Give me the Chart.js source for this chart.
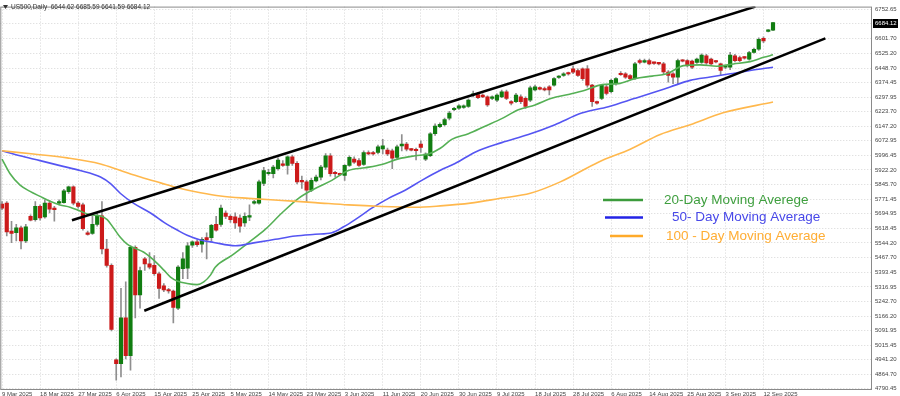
<!DOCTYPE html>
<html>
<head>
<meta charset="utf-8">
<script src="https://cdn.jsdelivr.net/npm/chart.js@4.4.1/dist/chart.umd.min.js"></script>
<style>
  html, body { margin: 0; padding: 0; background: #fff; }
  #wrap { width: 900px; height: 396px; }
</style>
</head>
<body>
<div id="wrap"><canvas id="chart" width="900" height="396"></canvas></div>
<script>
// x axis labels, one every 8 bars
const xTickLabels = ['9 Mar 2025', '18 Mar 2025', '27 Mar 2025', '6 Apr 2025', '15 Apr 2025', '25 Apr 2025',
  '5 May 2025', '14 May 2025', '23 May 2025', '3 Jun 2025', '11 Jun 2025', '20 Jun 2025', '30 Jun 2025',
  '9 Jul 2025', '18 Jul 2025', '28 Jul 2025', '6 Aug 2025', '14 Aug 2025', '25 Aug 2025', '3 Sep 2025', '12 Sep 2025'];

// price scale labels on the right
const yTicks = [6752.65, 6677.40, 6601.70, 6525.20, 6448.70, 6374.45, 6297.95, 6223.70, 6147.20, 6072.95,
  5996.45, 5922.20, 5845.70, 5771.45, 5694.95, 5618.45, 5544.20, 5467.70, 5393.45, 5316.95,
  5242.70, 5166.20, 5091.95, 5015.45, 4941.20, 4864.70, 4790.45];

// daily candles (one bar per trading session)
const opens = [5745, 5750, 5606, 5597, 5623, 5555, 5682, 5665, 5733, 5679, 5750, 5724, 5750, 5753, 5809, 5834,
  5750, 5741, 5597, 5594, 5640, 5685, 5513, 5428, 4940, 4920, 5157, 4962, 5521, 5275, 5462, 5436,
  5428, 5385, 5323, 5302, 5296, 5207, 5411, 5414, 5533, 5550, 5538, 5572, 5572, 5640, 5640, 5699,
  5682, 5679, 5673, 5648, 5678, 5750, 5750, 5852, 5902, 5902, 5928, 5953, 5945, 5990, 5956, 5868,
  5860, 5817, 5865, 5885, 5936, 5995, 5910, 5902, 5894, 5945, 5978, 5970, 5950, 6012, 6012, 6012,
  6030, 6024, 6021, 5987, 6046, 6055, 6029, 6029, 6055, 5978, 5995, 6109, 6146, 6156, 6190, 6233,
  6241, 6245, 6250, 6308, 6312, 6309, 6300, 6292, 6283, 6300, 6326, 6275, 6275, 6300, 6292, 6283,
  6335, 6346, 6343, 6351, 6360, 6400, 6411, 6420, 6444, 6436, 6444, 6444, 6360, 6272, 6292, 6351,
  6326, 6368, 6419, 6419, 6410, 6394, 6487, 6479, 6487, 6475, 6474, 6470, 6428, 6419, 6402, 6487,
  6487, 6485, 6478, 6478, 6512, 6495, 6483, 6470, 6453, 6453, 6512, 6503, 6503, 6495, 6529, 6546,
  6602, 6638, 6644.62];
const highs = [5758, 5758, 5656, 5640, 5631, 5640, 5690, 5758, 5741, 5767, 5763, 5733, 5767, 5821, 5838, 5839,
  5758, 5750, 5606, 5682, 5699, 5758, 5563, 5436, 4945, 5309, 5343, 5529, 5529, 5419, 5470, 5495,
  5479, 5394, 5334, 5309, 5301, 5427, 5495, 5546, 5555, 5560, 5572, 5597, 5640, 5682, 5740, 5710,
  5690, 5700, 5690, 5700, 5742, 5765, 5870, 5935, 5925, 5945, 5985, 5970, 5995, 5998, 5965, 5890,
  5870, 5880, 5895, 5945, 6007, 6007, 5915, 5905, 5950, 5995, 5990, 5980, 6020, 6020, 6018, 6050,
  6080, 6035, 6030, 6050, 6105, 6065, 6032, 6035, 6072, 6010, 6115, 6160, 6165, 6190, 6225, 6245,
  6260, 6258, 6290, 6330, 6320, 6315, 6305, 6305, 6315, 6335, 6335, 6280, 6318, 6310, 6300, 6355,
  6360, 6352, 6350, 6358, 6400, 6410, 6425, 6428, 6460, 6445, 6450, 6462, 6365, 6278, 6365, 6360,
  6392, 6400, 6430, 6425, 6415, 6478, 6495, 6495, 6495, 6480, 6478, 6478, 6435, 6425, 6495, 6492,
  6492, 6490, 6500, 6522, 6520, 6500, 6488, 6475, 6462, 6530, 6520, 6510, 6508, 6535, 6552, 6605,
  6610, 6648, 6685.59];
const lows = [5716, 5580, 5546, 5555, 5513, 5546, 5658, 5657, 5662, 5673, 5699, 5657, 5741, 5750, 5800, 5741,
  5724, 5611, 5584, 5589, 5631, 5487, 5419, 5089, 4835, 4852, 4945, 4886, 5157, 5207, 5402, 5410,
  5377, 5258, 5292, 5284, 5131, 5199, 5360, 5360, 5521, 5526, 5496, 5462, 5555, 5605, 5630, 5670,
  5650, 5620, 5600, 5630, 5660, 5745, 5745, 5840, 5895, 5880, 5920, 5940, 5900, 5945, 5850, 5826,
  5758, 5810, 5860, 5870, 5925, 5890, 5885, 5895, 5868, 5940, 5955, 5940, 5945, 6000, 5998, 6005,
  6004, 5995, 5928, 5980, 6020, 6020, 6020, 5973, 6012, 5970, 5990, 6100, 6140, 6150, 6180, 6228,
  6235, 6240, 6245, 6300, 6290, 6295, 6250, 6285, 6275, 6295, 6285, 6258, 6270, 6265, 6240, 6275,
  6330, 6335, 6330, 6310, 6355, 6395, 6405, 6412, 6420, 6405, 6385, 6350, 6250, 6262, 6285, 6310,
  6320, 6360, 6410, 6395, 6388, 6390, 6470, 6475, 6465, 6468, 6465, 6420, 6376, 6368, 6368, 6480,
  6455, 6445, 6472, 6472, 6468, 6465, 6475, 6410, 6445, 6440, 6480, 6482, 6495, 6490, 6525, 6540,
  6580, 6636, 6641.59];
const closes = [5724, 5601, 5594, 5623, 5555, 5628, 5662, 5733, 5674, 5750, 5719, 5716, 5758, 5814, 5834, 5750,
  5733, 5618, 5589, 5640, 5685, 5513, 5428, 5097, 4920, 5157, 4962, 5521, 5275, 5402, 5436, 5419,
  5385, 5309, 5301, 5296, 5211, 5419, 5462, 5529, 5550, 5536, 5563, 5560, 5635, 5611, 5724, 5682,
  5665, 5648, 5631, 5682, 5685, 5758, 5860, 5919, 5910, 5936, 5973, 5945, 5990, 5956, 5860, 5860,
  5817, 5868, 5885, 5936, 5995, 5902, 5902, 5897, 5945, 5987, 5962, 5945, 6012, 6004, 6004, 6041,
  6046, 6004, 5983, 6041, 6055, 6029, 6024, 6021, 6038, 6004, 6109, 6148, 6158, 6182, 6216, 6241,
  6253, 6253, 6283, 6312, 6295, 6300, 6258, 6300, 6309, 6326, 6292, 6267, 6309, 6275, 6250, 6346,
  6351, 6340, 6335, 6335, 6394, 6404, 6419, 6418, 6427, 6411, 6394, 6360, 6275, 6267, 6360, 6317,
  6385, 6394, 6414, 6402, 6394, 6470, 6478, 6487, 6470, 6473, 6470, 6428, 6411, 6402, 6487, 6484,
  6461, 6453, 6495, 6516, 6475, 6470, 6480, 6436, 6455, 6516, 6487, 6487, 6500, 6529, 6546, 6597,
  6589, 6644, 6684.12];

// moving averages at these bar positions
const ma20Idx = [0, 1.7, 3.8, 5.9, 8, 10.1, 12.2, 14.3, 16.4, 18.5, 20.7, 22.1, 23.4, 24.9, 26.3, 27.6, 29.8,
  31.9, 34, 35.4, 36.8, 38.9, 41, 42.4, 43.8, 44.8, 48.3, 51.8, 55.3, 58.8, 62.3, 65.8, 69.3, 72.8, 76.3,
  79.8, 83.3, 86.8, 89.6, 92.1, 94.5, 98, 101.5, 105, 108.5, 112, 115.5, 119, 122.5, 126.1, 129.5, 133,
  136.6, 139.7, 143.2, 146.7, 150.2, 153.7, 157.2, 160, 162];
const ma20 = [5978, 5902, 5843, 5811, 5785, 5760, 5741, 5729, 5709, 5690, 5684, 5665, 5623, 5572, 5538, 5521, 5496,
  5455, 5404, 5368, 5348, 5335, 5329, 5343, 5378, 5419, 5480, 5546, 5614, 5699, 5775, 5826, 5868, 5919, 5933,
  5950, 5979, 5995, 6004, 6034, 6080, 6109, 6148, 6187, 6233, 6258, 6292, 6312, 6334, 6363, 6368, 6394,
  6407, 6419, 6461, 6465, 6458, 6470, 6482, 6504, 6517];

const ma50Idx = [0, 3.8, 8, 12.2, 16.4, 20.7, 22.8, 24.9, 27.6, 31.2, 34.7, 36.8, 38.9, 41.7, 44.5, 49, 53.2,
  57.4, 61.6, 65.8, 69.3, 71.8, 74.2, 77.7, 81.2, 84.7, 88.2, 92.1, 95.2, 99.5, 105, 110.6, 116.2, 121.8,
  127.4, 133, 136.2, 140.4, 144.6, 148.8, 153, 157.2, 162];
const ma50 = [6021, 5995, 5970, 5944, 5919, 5885, 5851, 5800, 5750, 5699, 5640, 5611, 5584, 5560, 5547, 5530, 5546,
  5563, 5580, 5589, 5597, 5628, 5665, 5724, 5775, 5817, 5868, 5920, 5955, 6015, 6063, 6105, 6156, 6216,
  6249, 6292, 6317, 6351, 6385, 6402, 6419, 6436, 6453];

const ma100Idx = [0, 6.6, 13.7, 20.7, 24.9, 29.1, 33.3, 37.5, 41.7, 45.9, 51.8, 58.8, 65.8, 72.8, 79.8, 86.8,
  92.1, 98.4, 104.7, 111, 117.3, 125.3, 132, 138.3, 144.6, 151.5, 162];
const ma100 = [6021, 6004, 5984, 5953, 5919, 5885, 5855, 5826, 5804, 5787, 5775, 5764, 5753, 5741, 5733, 5729,
  5736, 5750, 5775, 5801, 5860, 5962, 6029, 6105, 6156, 6217, 6273];

// channel lines: [bar, price] at each end
const upperChannel = [[14.7, 5661.8], [158.3, 6766.4]];
const lowerChannel = [[29.9, 5194], [173, 6602.2]];

const legendItems = [
  { text: '20-Day Moving Averege', color: '#3f9f3f', line: '#3c9b3c' },
  { text: '50- Day Moving Average', color: '#4848e8', line: '#2323e6' },
  { text: '100 - Day Moving Average', color: '#ffad33', line: '#ffaa2a' }
];

const UP = '#117d11';
const DOWN = '#cc1a1a';

const bars = opens.map((o, i) => i);
const pts = (idx, vals) => idx.map((x, i) => ({ x: x, y: vals[i] }));

const overlay = {
  id: 'overlay',
  afterDraw(chart) {
    const ctx = chart.ctx;
    const area = chart.chartArea;
    const y = chart.scales.y;
    ctx.save();

    // frame
    ctx.strokeStyle = '#8a8a8a';
    ctx.lineWidth = 1;
    ctx.strokeRect(area.left + 0.5, area.top + 0.5, area.right - area.left - 1, area.bottom - area.top);

    // header
    ctx.fillStyle = '#333';
    ctx.beginPath();
    ctx.moveTo(3, 5); ctx.lineTo(8, 5); ctx.lineTo(5.5, 9); ctx.closePath();
    ctx.fill();
    ctx.font = '6.5px "Liberation Sans", Arial, sans-serif';
    ctx.textBaseline = 'middle';
    ctx.textAlign = 'left';
    ctx.fillText('US500,Daily  6644.62 6685.59 6641.59 6684.12', 11, 7);

    // current price box
    const last = closes[closes.length - 1];
    const py = Math.round(y.getPixelForValue(last));
    ctx.fillStyle = '#000';
    ctx.fillRect(area.right + 1, py - 4, 25, 9);
    ctx.fillStyle = '#fff';
    ctx.font = '6px "Liberation Sans", Arial, sans-serif';
    ctx.fillText(last.toFixed(2), area.right + 3, py + 0.5);

    // legend
    ctx.font = '13.5px "Liberation Sans", Arial, sans-serif';
    const rows = [200, 217.5, 236];
    const lx = [[603, 643], [605, 643], [610, 643]];
    const tx = [664, 672, 666];
    legendItems.forEach((it, i) => {
      ctx.strokeStyle = it.line;
      ctx.lineWidth = 2.5;
      ctx.beginPath();
      ctx.moveTo(lx[i][0], rows[i]);
      ctx.lineTo(lx[i][1], rows[i]);
      ctx.stroke();
      ctx.fillStyle = it.color;
      ctx.fillText(it.text, tx[i], rows[i]);
    });
    ctx.restore();
  }
};

new Chart(document.getElementById('chart'), {
  type: 'bar',
  data: {
    datasets: [
      {
        label: 'wick',
        data: bars.map(i => ({ x: i, y: [lows[i], highs[i]] })),
        backgroundColor: '#8f8f8f',
        barThickness: 1,
        grouped: false,
        order: 4
      },
      {
        label: 'body',
        data: bars.map(i => ({ x: i, y: [opens[i], closes[i]] })),
        backgroundColor: bars.map(i => closes[i] >= opens[i] ? UP : DOWN),
        barThickness: 3.5,
        minBarLength: 1.5,
        grouped: false,
        order: 3
      },
      {
        type: 'line',
        label: '100 - Day Moving Average',
        data: pts(ma100Idx, ma100),
        borderColor: '#ffb84d',
        borderWidth: 1.6,
        pointRadius: 0,
        cubicInterpolationMode: 'monotone',
        order: 2
      },
      {
        type: 'line',
        label: '50- Day Moving Average',
        data: pts(ma50Idx, ma50),
        borderColor: '#5555f2',
        borderWidth: 1.6,
        pointRadius: 0,
        cubicInterpolationMode: 'monotone',
        order: 2
      },
      {
        type: 'line',
        label: '20-Day Moving Averege',
        data: pts(ma20Idx, ma20),
        borderColor: '#55b055',
        borderWidth: 1.6,
        pointRadius: 0,
        cubicInterpolationMode: 'monotone',
        order: 2
      },
      {
        type: 'line',
        label: 'upper',
        data: upperChannel.map(p => ({ x: p[0], y: p[1] })),
        borderColor: '#000',
        borderWidth: 2.6,
        pointRadius: 0,
        order: 1
      },
      {
        type: 'line',
        label: 'lower',
        data: lowerChannel.map(p => ({ x: p[0], y: p[1] })),
        borderColor: '#000',
        borderWidth: 2.6,
        pointRadius: 0,
        order: 1
      }
    ]
  },
  options: {
    responsive: false,
    animation: false,
    devicePixelRatio: 1,
    layout: { padding: 0 },
    plugins: {
      legend: { display: false },
      tooltip: { enabled: false }
    },
    scales: {
      x: {
        type: 'linear',
        min: -0.36,
        max: 182.8,
        offset: false,
        afterBuildTicks: s => { s.ticks = xTickLabels.map((t, i) => ({ value: i * 8 })); },
        afterFit: s => { s.height = 7; },
        grid: { color: '#d6d6d6', offset: false, drawTicks: false },
        border: { display: false, dash: [1, 2] },
        ticks: {
          autoSkip: false,
          maxRotation: 0,
          align: 'start',
          padding: 2,
          color: '#444',
          font: { size: 6, family: '"Liberation Sans", Arial, sans-serif' },
          callback: v => xTickLabels[v / 8]
        }
      },
      y: {
        position: 'right',
        min: 4789.1,
        max: 6766.4,
        afterBuildTicks: s => { s.ticks = yTicks.map(v => ({ value: v })); },
        afterFit: s => { s.width = 28; },
        grid: { color: '#d6d6d6', drawTicks: false },
        border: { display: false, dash: [1, 2] },
        ticks: {
          padding: 3,
          color: '#444',
          font: { size: 6, family: '"Liberation Sans", Arial, sans-serif' },
          callback: v => v.toFixed(2)
        }
      }
    }
  },
  plugins: [overlay]
});
</script>
</body>
</html>
